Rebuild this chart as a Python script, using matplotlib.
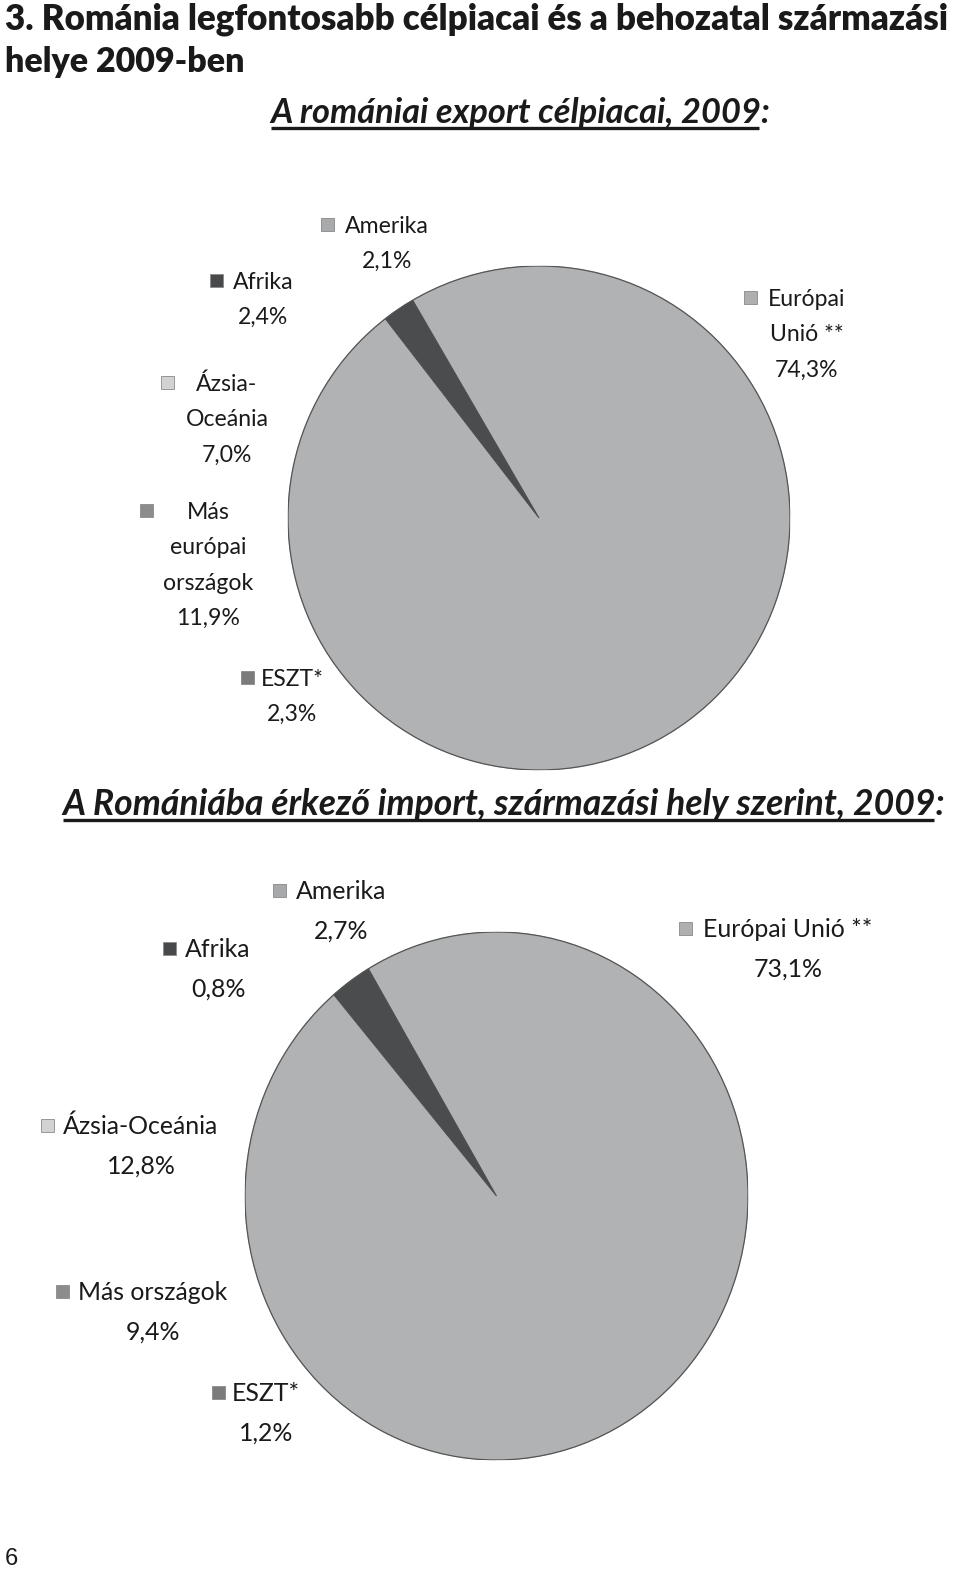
import matplotlib
matplotlib.use('Agg')
import matplotlib.pyplot as plt
from matplotlib.patches import Circle, Rectangle

# data
export_cats = ['Európai\nUnió **', 'ESZT*', 'Más\neurópai\nországok', 'Ázsia-\nOceánia', 'Afrika', 'Amerika']
export_vals = [74.3, 2.3, 11.9, 7.0, 2.4, 2.1]
import_cats = ['Európai Unió **', 'ESZT*', 'Más országok', 'Ázsia-Oceánia', 'Afrika', 'Amerika']
import_vals = [73.1, 1.2, 9.4, 12.8, 0.8, 2.7]

# colours: in the picture every wedge is the same grey except one
PIE_GREY = '#b1b2b4'
PIE_DARK = '#4b4c4e'
wedge_cols = [PIE_GREY, PIE_GREY, PIE_GREY, PIE_GREY, PIE_GREY, PIE_DARK]
key_cols = ['#aeafb1', '#7b7b7b', '#8c8c8c', '#d2d2d2', '#48494b', '#a8a9ab']

fig = plt.figure(figsize=(9.6, 15.75), dpi=100)
fig.patch.set_facecolor('white')

# overlay axes in pixel units (y down) for all the text
ax0 = fig.add_axes([0, 0, 1, 1])
ax0.set_xlim(0, 960)
ax0.set_ylim(1575, 0)
ax0.axis('off')

renderer = fig.canvas.get_renderer()


def fit_text(x, y, s, target_w, size=20, **kw):
    t = ax0.text(x, y, s, fontsize=size, **kw)
    w = t.get_window_extent(renderer).width
    t.set_fontsize(size * target_w / w)
    return t


def underlined(x, y, s, target_w, under_to, **kw):
    t = fit_text(x, y, s, target_w, **kw)
    tmp = ax0.text(x, y, under_to, fontsize=t.get_fontsize(), **kw)
    uw = tmp.get_window_extent(renderer).width
    tmp.remove()
    ax0.plot([x + 1, x + uw - 2], [y + 4.5, y + 4.5], color='#1a1a1a', lw=2.4,
             solid_capstyle='butt')
    return t


title_kw = dict(fontfamily=['Lato', 'DejaVu Sans'], fontweight='heavy')
SUB_FONT = ['Lato', 'DejaVu Sans']
LAB_FONT = ['Lato', 'DejaVu Sans']

fit_text(5, 29, '3. Románia legfontosabb célpiacai és a behozatal származási', 943,
         color='#1a1a1a', va='baseline', **title_kw)
fit_text(5, 72, 'helye 2009-ben', 240, color='#1a1a1a', va='baseline', **title_kw)

underlined(270, 123, 'A romániai export célpiacai, 2009:', 500, 'A romániai export célpiacai, 2009',
           fontfamily=SUB_FONT, fontweight='bold', fontstyle='italic', color='#1a1a1a', va='baseline')
underlined(62, 815, 'A Romániába érkező import, származási hely szerint, 2009:', 883,
           'A Romániába érkező import, származási hely szerint, 2009',
           fontfamily=SUB_FONT, fontweight='bold', fontstyle='italic', color='#1a1a1a', va='baseline')


def draw_pie(rect, vals, start):
    ax = fig.add_axes(rect)
    wedges, _ = ax.pie(vals, colors=wedge_cols, startangle=start, counterclock=False)
    # hide the seams between wedges of the same grey
    for w in wedges:
        w.set_edgecolor(w.get_facecolor())
        w.set_linewidth(0.7)
    ax.set_aspect('auto')
    ax.set_xlim(-1, 1)
    ax.set_ylim(-1, 1)
    ax.add_patch(Circle((0, 0), 1, fill=False, ec='#555555', lw=0.9))
    ax.axis('off')
    return ax


draw_pie([288 / 960, (1575 - 770) / 1575, 502 / 960, 504 / 1575], export_vals, 120.2)
draw_pie([245 / 960, (1575 - 1460) / 1575, 503 / 960, 528 / 1575], import_vals, 120.6)


def pct(v):
    return f'{v:.1f}'.replace('.', ',') + '%'


def label(cat, val, col, cx, y0, key_x, spacing, size):
    lines = cat.split('\n') + [pct(val)]
    for i, ln in enumerate(lines):
        ax0.text(cx, y0 + i * spacing + size * 0.52, ln, fontsize=size, fontfamily=LAB_FONT,
                 color='#1a1a1a', ha='center', va='baseline')
    ax0.add_patch(Rectangle((key_x - 6.5, y0 - 6.5), 13, 13, facecolor=col,
                            edgecolor='#8a8a8a', lw=0.6))


# label anchors (text centre x, first line y, key x) in pixel coordinates
exp_pos = [(807, 297, 750), (292, 677, 247), (208, 510, 146),
           (227, 382, 167), (263, 280, 216), (387, 224, 327)]
imp_pos = [(788, 928, 685), (266, 1392, 218), (153, 1291, 62),
           (141, 1125, 47), (218, 948, 169), (341, 890, 279)]

for c, v, col, p in zip(export_cats, export_vals, key_cols, exp_pos):
    label(c, v, col, p[0], p[1], p[2], 35.5, 16.6)
for c, v, col, p in zip(import_cats, import_vals, key_cols, imp_pos):
    label(c, v, col, p[0], p[1], p[2], 39, 17.9)

ax0.text(5, 1565, '6', fontsize=17, fontfamily=['Liberation Sans', 'DejaVu Sans'],
         color='#1a1a1a', va='baseline')

fig.savefig('out.png', dpi=100, facecolor='white')
